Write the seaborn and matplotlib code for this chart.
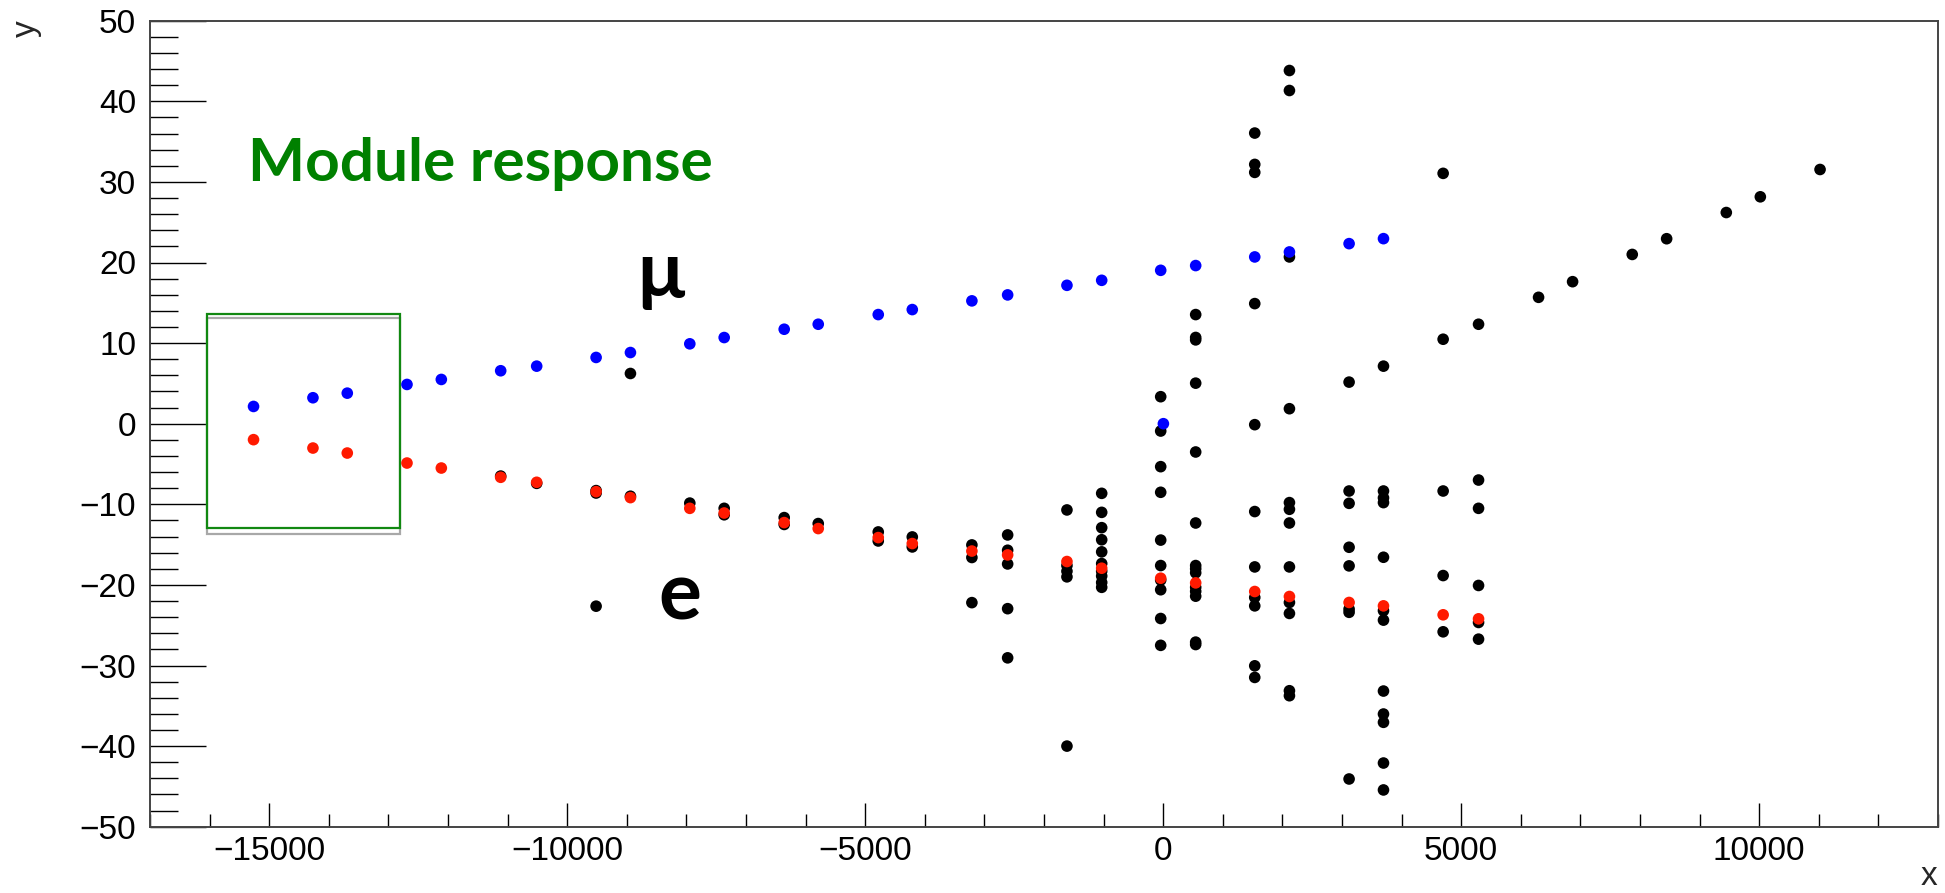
import numpy as np
import pandas as pd
import matplotlib
matplotlib.use("Agg")
import matplotlib.pyplot as plt
from matplotlib.patches import Rectangle
from matplotlib.ticker import MultipleLocator
import seaborn as sns

# Station x positions shared by the muon / electron tracks
track_x = [-15263, -14266, -13690, -12688, -12112, -11116, -10512, -9515, -8939,
           -7943, -7366, -6359, -5788, -4781, -4210, -3210, -2610, -1615, -1032,
           -42, 545, 1536, 2118, 3119, 3696, 4697, 5291]

# Muon track (blue)
mu_y = [2.14, 3.22, 3.79, 4.87, 5.49, 6.57, 7.14, 8.22, 8.83, 9.91, 10.69, 11.72,
        12.34, 13.54, 14.16, 15.24, 15.98, 17.17, 17.79, 19.03, 19.62, 20.69,
        21.31, 22.34, 22.96]
mu_extra_x = [3]
mu_extra_y = [0.0]

# Electron track (red)
e_y = [-1.98, -3.02, -3.64, -4.88, -5.50, -6.65, -7.27, -8.43, -9.17, -10.5,
       -11.08, -12.27, -13.01, -14.13, -14.87, -15.8, -16.28, -17.1, -17.93,
       -19.17, -19.75, -20.82, -21.44, -22.18, -22.6, -23.71, -24.21]

# Module hits (black)
hit_x = ([-11116, -10512] + [-9515] * 3 + [-8939] * 2 + [-7943] + [-7366] * 2
         + [-6359] * 2 + [-5788] + [-4781] * 2 + [-4210] * 2 + [-3210] * 3
         + [-2610] * 5 + [-1615] * 5 + [-1032] * 10 + [-42] * 10 + [545] * 14
         + [1536] * 11 + [2118] * 12 + [3119] * 8 + [3696] * 12 + [4697] * 5
         + [5291] * 6 + [6298, 6869, 7870, 8447, 9448, 10019, 11021])
hit_y = ([-6.5, -7.4]
         + [-8.3, -8.6, -22.64]
         + [6.23, -9.0]
         + [-9.85]
         + [-10.5, -11.3]
         + [-11.65, -12.5]
         + [-12.39]
         + [-13.43, -14.55]
         + [-14.05, -15.29]
         + [-15.04, -16.6, -22.2]
         + [-13.8, -15.7, -17.4, -22.95, -29.05]
         + [-10.7, -17.6, -18.3, -19.0, -40.0]
         + [-8.64, -11.0, -12.9, -14.4, -15.9, -17.35, -18.3, -18.9, -19.7, -20.3]
         + [3.35, -0.91, -5.33, -8.51, -14.44, -17.6, -19.4, -20.6, -24.17, -27.5]
         + [13.54, 10.4, 10.7, 5.03, -3.51, -12.32, -17.6, -18.0, -18.5, -20.3,
            -20.8, -21.4, -27.1, -27.4]
         + [36.06, 32.17, 31.18, 14.9, -0.12, -10.9, -17.77, -21.56, -22.6,
            -30.04, -31.48]
         + [43.82, 41.34, 20.69, 1.86, -9.79, -10.62, -12.32, -17.77, -22.18,
            -23.54, -33.13, -33.75]
         + [5.16, -8.35, -9.88, -15.33, -17.64, -23.0, -23.4, -44.08]
         + [7.14, -8.35, -9.2, -9.79, -16.57, -23.2, -24.37, -33.17, -36.02,
            -37.05, -42.1, -45.44]
         + [31.06, 10.48, -8.35, -18.84, -25.82]
         + [12.34, -6.99, -10.5, -20.07, -24.66, -26.73]
         + [15.68, 17.62, 21.0, 22.95, 26.2, 28.15, 31.54])

# Drawing order: hits underneath, then electron, then muon on top
df = pd.concat([
    pd.DataFrame({"x": hit_x, "y": hit_y, "kind": "hit"}),
    pd.DataFrame({"x": track_x[:len(e_y)], "y": e_y, "kind": "e"}),
    pd.DataFrame({"x": track_x[:len(mu_y)] + mu_extra_x,
                  "y": mu_y + mu_extra_y, "kind": "mu"}),
], ignore_index=True)

sns.set_theme(style="white")
plt.rcParams["font.family"] = ["Liberation Sans", "DejaVu Sans"]

W, H, DPI = 1945, 893, 100
fig = plt.figure(figsize=(W / DPI, H / DPI), dpi=DPI)
ax = fig.add_axes([150 / W, 1 - 826.7 / H, (1938 - 150) / W, (826.7 - 20.7) / H])

sns.scatterplot(data=df, x="x", y="y", hue="kind",
                palette={"hit": "black", "e": "#ff1a00", "mu": "#0000ff"},
                s=70, linewidth=0, legend=False, ax=ax, zorder=3)

ax.set_xlim(-17000, 13000)
ax.set_ylim(-50, 50)

# Boxed region around the first stations
ax.add_patch(Rectangle((-16045, -13.63), 16045 - 12812, 13.08 + 13.63,
                       fill=False, edgecolor="#a8a8a8", linewidth=1.6, zorder=2))
ax.add_patch(Rectangle((-16045, -13.0), 16045 - 12812, 13.67 + 13.0,
                       fill=False, edgecolor="#118811", linewidth=1.6, zorder=2))

# Axis frame and ticks
for side, sp in ax.spines.items():
    sp.set_color("#444444")
    sp.set_linewidth(1.4)
ax.xaxis.set_major_locator(MultipleLocator(5000))
ax.xaxis.set_minor_locator(MultipleLocator(1000))
ax.yaxis.set_major_locator(MultipleLocator(10))
ax.yaxis.set_minor_locator(MultipleLocator(2))
ax.tick_params(axis="both", which="both", direction="in", colors="black",
               width=1.0, labelsize=24, top=False, right=False,
               bottom=True, left=True)
ax.tick_params(axis="y", which="major", length=40, pad=10)
ax.tick_params(axis="y", which="minor", length=20)
ax.tick_params(axis="x", which="major", length=17, pad=7)
ax.tick_params(axis="x", which="minor", length=9.5)
ax.set_xlabel("")
ax.set_ylabel("")
ax.grid(False)

fig.text(1937 / W, 1 - 892 / H, "x", ha="right", va="bottom", fontsize=24)
fig.text(26 / W, 1 - 20 / H, "y", ha="center", va="top", rotation=90, fontsize=24)

fig.text(248 / W, 1 - 181 / H, "Module response", ha="left", va="baseline",
         fontsize=43.5, fontweight="bold", color="#008000",
         family=["Lato", "DejaVu Sans"])
fig.text(661 / W, 1 - 297 / H, "μ", ha="center", va="baseline",
         fontsize=56, fontweight="bold", color="black",
         family=["Lato", "DejaVu Sans"])
fig.text(680 / W, 1 - 620 / H, "e", ha="center", va="baseline",
         fontsize=58, fontweight="bold", color="black",
         family=["Lato", "DejaVu Sans"])

fig.savefig("out.png", dpi=DPI)
